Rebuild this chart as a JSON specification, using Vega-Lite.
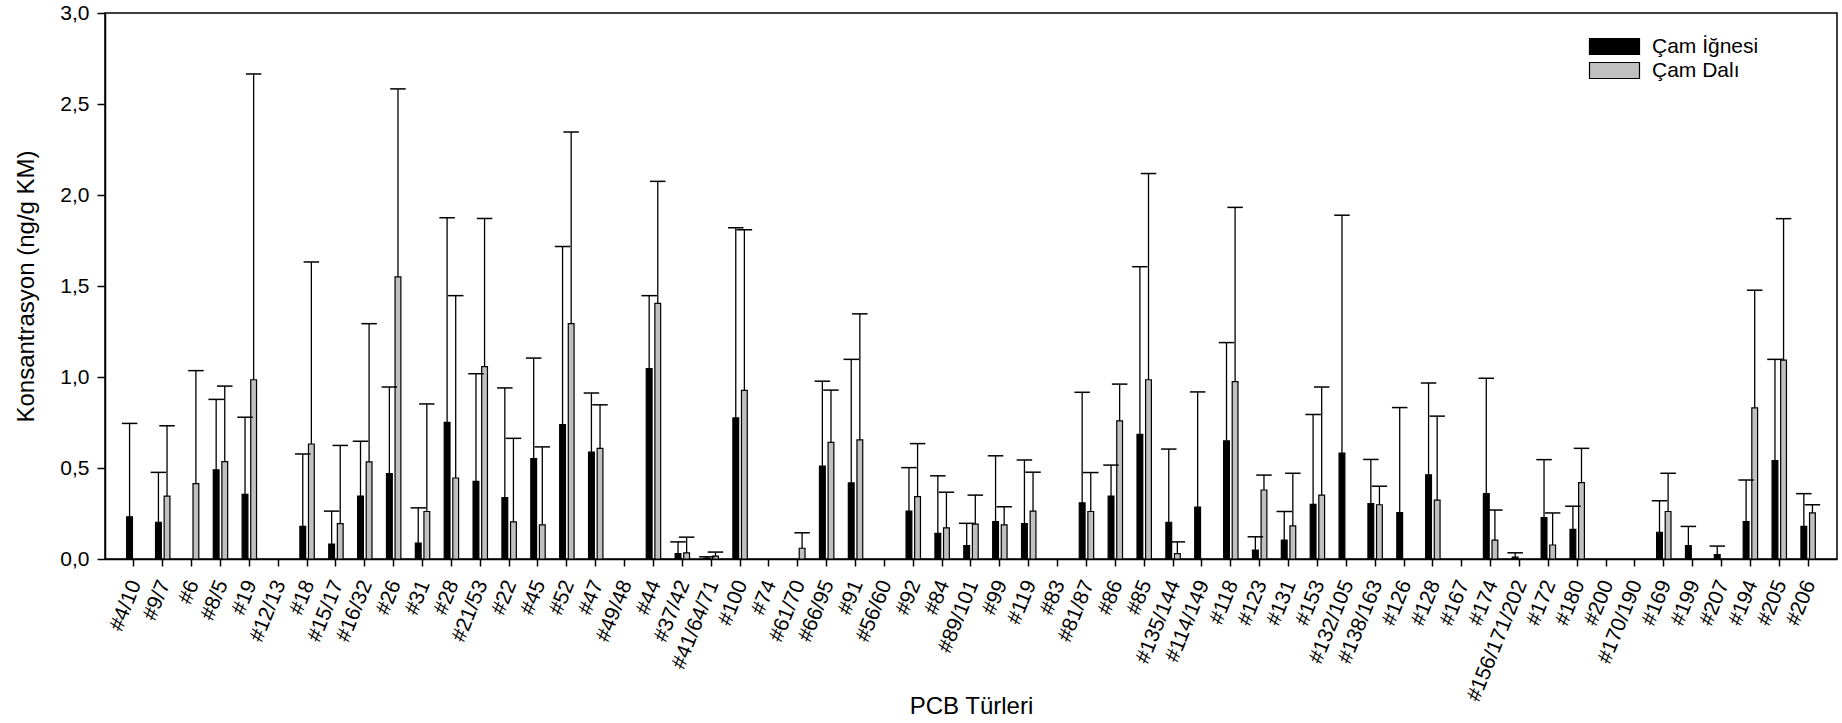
{
  "$schema": "https://vega.github.io/schema/vega-lite/v6.json",
  "width": 1732,
  "height": 546,
  "autosize": {"type": "none"},
  "padding": {"left": 105, "top": 13, "right": 5, "bottom": 164},
  "background": "white",
  "config": {
    "font": "Liberation Sans",
    "view": {"stroke": "black", "strokeWidth": 1.5},
    "axis": {"domainColor": "black", "domainWidth": 1.5, "tickColor": "black", "tickWidth": 1.5, "labelColor": "black", "titleColor": "black", "grid": false, "labelFont": "Liberation Sans", "titleFont": "Liberation Sans", "titleFontWeight": "normal"}
  },
  "data": {"values": [
    {"pcb": "#4/10", "tur": "Çam İğnesi", "deger": 0.232, "ust": 0.745},
    {"pcb": "#9/7", "tur": "Çam İğnesi", "deger": 0.202, "ust": 0.476},
    {"pcb": "#9/7", "tur": "Çam Dalı", "deger": 0.345, "ust": 0.732},
    {"pcb": "#6", "tur": "Çam Dalı", "deger": 0.414, "ust": 1.035},
    {"pcb": "#8/5", "tur": "Çam İğnesi", "deger": 0.49, "ust": 0.877},
    {"pcb": "#8/5", "tur": "Çam Dalı", "deger": 0.535, "ust": 0.95},
    {"pcb": "#19", "tur": "Çam İğnesi", "deger": 0.355, "ust": 0.779},
    {"pcb": "#19", "tur": "Çam Dalı", "deger": 0.985, "ust": 2.665},
    {"pcb": "#18", "tur": "Çam İğnesi", "deger": 0.179, "ust": 0.577},
    {"pcb": "#18", "tur": "Çam Dalı", "deger": 0.632, "ust": 1.632},
    {"pcb": "#15/17", "tur": "Çam İğnesi", "deger": 0.082, "ust": 0.263},
    {"pcb": "#15/17", "tur": "Çam Dalı", "deger": 0.194, "ust": 0.624},
    {"pcb": "#16/32", "tur": "Çam İğnesi", "deger": 0.345, "ust": 0.647},
    {"pcb": "#16/32", "tur": "Çam Dalı", "deger": 0.534, "ust": 1.293},
    {"pcb": "#26", "tur": "Çam İğnesi", "deger": 0.469, "ust": 0.945},
    {"pcb": "#26", "tur": "Çam Dalı", "deger": 1.55, "ust": 2.583},
    {"pcb": "#31", "tur": "Çam İğnesi", "deger": 0.088, "ust": 0.281},
    {"pcb": "#31", "tur": "Çam Dalı", "deger": 0.261, "ust": 0.852},
    {"pcb": "#28", "tur": "Çam İğnesi", "deger": 0.751, "ust": 1.875},
    {"pcb": "#28", "tur": "Çam Dalı", "deger": 0.445, "ust": 1.447},
    {"pcb": "#21/53", "tur": "Çam İğnesi", "deger": 0.426, "ust": 1.018},
    {"pcb": "#21/53", "tur": "Çam Dalı", "deger": 1.057, "ust": 1.871},
    {"pcb": "#22", "tur": "Çam İğnesi", "deger": 0.338, "ust": 0.94},
    {"pcb": "#22", "tur": "Çam Dalı", "deger": 0.204, "ust": 0.663},
    {"pcb": "#45", "tur": "Çam İğnesi", "deger": 0.551, "ust": 1.104},
    {"pcb": "#45", "tur": "Çam Dalı", "deger": 0.188, "ust": 0.616},
    {"pcb": "#52", "tur": "Çam İğnesi", "deger": 0.738, "ust": 1.717},
    {"pcb": "#52", "tur": "Çam Dalı", "deger": 1.293, "ust": 2.346},
    {"pcb": "#47", "tur": "Çam İğnesi", "deger": 0.587, "ust": 0.912},
    {"pcb": "#47", "tur": "Çam Dalı", "deger": 0.608, "ust": 0.847},
    {"pcb": "#44", "tur": "Çam İğnesi", "deger": 1.046, "ust": 1.447},
    {"pcb": "#44", "tur": "Çam Dalı", "deger": 1.404, "ust": 2.075},
    {"pcb": "#37/42", "tur": "Çam İğnesi", "deger": 0.03, "ust": 0.094},
    {"pcb": "#37/42", "tur": "Çam Dalı", "deger": 0.034, "ust": 0.12},
    {"pcb": "#41/64/71", "tur": "Çam İğnesi", "deger": 0.005, "ust": 0.012},
    {"pcb": "#41/64/71", "tur": "Çam Dalı", "deger": 0.016, "ust": 0.038},
    {"pcb": "#100", "tur": "Çam İğnesi", "deger": 0.775, "ust": 1.82},
    {"pcb": "#100", "tur": "Çam Dalı", "deger": 0.926, "ust": 1.809},
    {"pcb": "#61/70", "tur": "Çam Dalı", "deger": 0.059, "ust": 0.144},
    {"pcb": "#66/95", "tur": "Çam İğnesi", "deger": 0.51, "ust": 0.977},
    {"pcb": "#66/95", "tur": "Çam Dalı", "deger": 0.641, "ust": 0.928},
    {"pcb": "#91", "tur": "Çam İğnesi", "deger": 0.418, "ust": 1.097},
    {"pcb": "#91", "tur": "Çam Dalı", "deger": 0.655, "ust": 1.347},
    {"pcb": "#92", "tur": "Çam İğnesi", "deger": 0.263, "ust": 0.502},
    {"pcb": "#92", "tur": "Çam Dalı", "deger": 0.343, "ust": 0.634},
    {"pcb": "#84", "tur": "Çam İğnesi", "deger": 0.141, "ust": 0.457},
    {"pcb": "#84", "tur": "Çam Dalı", "deger": 0.171, "ust": 0.367},
    {"pcb": "#89/101", "tur": "Çam İğnesi", "deger": 0.073, "ust": 0.196},
    {"pcb": "#89/101", "tur": "Çam Dalı", "deger": 0.192, "ust": 0.351},
    {"pcb": "#99", "tur": "Çam İğnesi", "deger": 0.206, "ust": 0.567},
    {"pcb": "#99", "tur": "Çam Dalı", "deger": 0.188, "ust": 0.287},
    {"pcb": "#119", "tur": "Çam İğnesi", "deger": 0.194, "ust": 0.544},
    {"pcb": "#119", "tur": "Çam Dalı", "deger": 0.263, "ust": 0.477},
    {"pcb": "#81/87", "tur": "Çam İğnesi", "deger": 0.308, "ust": 0.916},
    {"pcb": "#81/87", "tur": "Çam Dalı", "deger": 0.261, "ust": 0.475},
    {"pcb": "#86", "tur": "Çam İğnesi", "deger": 0.345, "ust": 0.516},
    {"pcb": "#86", "tur": "Çam Dalı", "deger": 0.759, "ust": 0.961},
    {"pcb": "#85", "tur": "Çam İğnesi", "deger": 0.685, "ust": 1.606},
    {"pcb": "#85", "tur": "Çam Dalı", "deger": 0.985, "ust": 2.118},
    {"pcb": "#135/144", "tur": "Çam İğnesi", "deger": 0.202, "ust": 0.604},
    {"pcb": "#135/144", "tur": "Çam Dalı", "deger": 0.03, "ust": 0.094},
    {"pcb": "#114/149", "tur": "Çam İğnesi", "deger": 0.285, "ust": 0.918},
    {"pcb": "#118", "tur": "Çam İğnesi", "deger": 0.649, "ust": 1.189},
    {"pcb": "#118", "tur": "Çam Dalı", "deger": 0.975, "ust": 1.932},
    {"pcb": "#123", "tur": "Çam İğnesi", "deger": 0.049, "ust": 0.122},
    {"pcb": "#123", "tur": "Çam Dalı", "deger": 0.379, "ust": 0.461},
    {"pcb": "#131", "tur": "Çam İğnesi", "deger": 0.104, "ust": 0.261},
    {"pcb": "#131", "tur": "Çam Dalı", "deger": 0.182, "ust": 0.471},
    {"pcb": "#153", "tur": "Çam İğnesi", "deger": 0.3, "ust": 0.794},
    {"pcb": "#153", "tur": "Çam Dalı", "deger": 0.351, "ust": 0.945},
    {"pcb": "#132/105", "tur": "Çam İğnesi", "deger": 0.582, "ust": 1.889},
    {"pcb": "#138/163", "tur": "Çam İğnesi", "deger": 0.304, "ust": 0.547},
    {"pcb": "#138/163", "tur": "Çam Dalı", "deger": 0.298, "ust": 0.4},
    {"pcb": "#126", "tur": "Çam İğnesi", "deger": 0.255, "ust": 0.832},
    {"pcb": "#128", "tur": "Çam İğnesi", "deger": 0.463, "ust": 0.967},
    {"pcb": "#128", "tur": "Çam Dalı", "deger": 0.324, "ust": 0.785},
    {"pcb": "#174", "tur": "Çam İğnesi", "deger": 0.359, "ust": 0.993},
    {"pcb": "#174", "tur": "Çam Dalı", "deger": 0.104, "ust": 0.269},
    {"pcb": "#156/171/202", "tur": "Çam İğnesi", "deger": 0.01, "ust": 0.034},
    {"pcb": "#172", "tur": "Çam İğnesi", "deger": 0.228, "ust": 0.546},
    {"pcb": "#172", "tur": "Çam Dalı", "deger": 0.077, "ust": 0.253},
    {"pcb": "#180", "tur": "Çam İğnesi", "deger": 0.163, "ust": 0.29},
    {"pcb": "#180", "tur": "Çam Dalı", "deger": 0.42, "ust": 0.608},
    {"pcb": "#169", "tur": "Çam İğnesi", "deger": 0.147, "ust": 0.32},
    {"pcb": "#169", "tur": "Çam Dalı", "deger": 0.261, "ust": 0.471},
    {"pcb": "#199", "tur": "Çam İğnesi", "deger": 0.073, "ust": 0.179},
    {"pcb": "#207", "tur": "Çam İğnesi", "deger": 0.024, "ust": 0.071},
    {"pcb": "#194", "tur": "Çam İğnesi", "deger": 0.206, "ust": 0.434},
    {"pcb": "#194", "tur": "Çam Dalı", "deger": 0.83, "ust": 1.477},
    {"pcb": "#205", "tur": "Çam İğnesi", "deger": 0.54, "ust": 1.097},
    {"pcb": "#205", "tur": "Çam Dalı", "deger": 1.093, "ust": 1.87},
    {"pcb": "#206", "tur": "Çam İğnesi", "deger": 0.179, "ust": 0.359},
    {"pcb": "#206", "tur": "Çam Dalı", "deger": 0.253, "ust": 0.298}
  ]},
  "layer": [
    {
      "mark": {"type": "bar", "stroke": "black", "strokeWidth": 1.2},
      "encoding": {
        "x": {
          "field": "pcb", "type": "nominal",
          "scale": {
            "domain": ["#4/10", "#9/7", "#6", "#8/5", "#19", "#12/13", "#18", "#15/17", "#16/32", "#26", "#31", "#28", "#21/53", "#22", "#45", "#52", "#47", "#49/48", "#44", "#37/42", "#41/64/71", "#100", "#74", "#61/70", "#66/95", "#91", "#56/60", "#92", "#84", "#89/101", "#99", "#119", "#83", "#81/87", "#86", "#85", "#135/144", "#114/149", "#118", "#123", "#131", "#153", "#132/105", "#138/163", "#126", "#128", "#167", "#174", "#156/171/202", "#172", "#180", "#200", "#170/190", "#169", "#199", "#207", "#194", "#205", "#206"],
            "paddingInner": 0, "paddingOuter": 0.5
          },
          "axis": {
            "title": "PCB Türleri", "titleFontSize": 24, "titleY": 154, "titleBaseline": "alphabetic",
            "labelAngle": -68, "labelFontSize": 21, "labelPadding": 15, "labelOffset": 2, "tickSize": 7,
            "labelAlign": "right", "labelBaseline": "middle", "labelOverlap": false
          }
        },
        "xOffset": {"field": "tur", "type": "nominal", "scale": {"domain": ["Çam İğnesi", "Çam Dalı"], "paddingInner": 0.326, "paddingOuter": 0.841}},
        "y": {
          "field": "deger", "type": "quantitative",
          "scale": {"domain": [0, 3], "nice": false},
          "axis": {
            "title": "Konsantrasyon (ng/g KM)", "titleFontSize": 24, "titleX": -72, "titleY": 273, "titleAngle": -90, "titleAlign": "center", "titleBaseline": "alphabetic",
            "values": [0, 0.5, 1, 1.5, 2, 2.5, 3], "labelExpr": "replace(format(datum.value, '.1f'), '.', ',')",
            "labelFontSize": 21, "labelPadding": 8, "tickSize": 8
          }
        },
        "color": {
          "field": "tur", "type": "nominal",
          "scale": {"domain": ["Çam İğnesi", "Çam Dalı"], "range": ["black", "#c0c0c0"]},
          "legend": {
            "orient": "none", "legendX": 1499, "legendY": 23, "title": null, "padding": 0,
            "symbolType": "M-3.125,-1L3.125,-1L3.125,1L-3.125,1Z", "symbolSize": 256,
            "symbolStrokeColor": "black", "symbolStrokeWidth": 1.2, "symbolOpacity": 1,
            "labelFontSize": 21, "labelFont": "Liberation Sans", "labelColor": "black", "labelOffset": 27, "rowPadding": 2
          }
        }
      }
    },
    {
      "mark": {"type": "rule", "color": "black", "strokeWidth": 1.3},
      "encoding": {
        "x": {"field": "pcb", "type": "nominal"},
        "xOffset": {"field": "tur", "type": "nominal"},
        "y": {"field": "deger", "type": "quantitative", "title": "Konsantrasyon (ng/g KM)"},
        "y2": {"field": "ust"}
      }
    },
    {
      "mark": {"type": "tick", "color": "black", "thickness": 1.5, "size": 15.5, "opacity": 1},
      "encoding": {
        "x": {"field": "pcb", "type": "nominal"},
        "xOffset": {"field": "tur", "type": "nominal"},
        "y": {"field": "ust", "type": "quantitative", "title": "Konsantrasyon (ng/g KM)"}
      }
    }
  ]
}
